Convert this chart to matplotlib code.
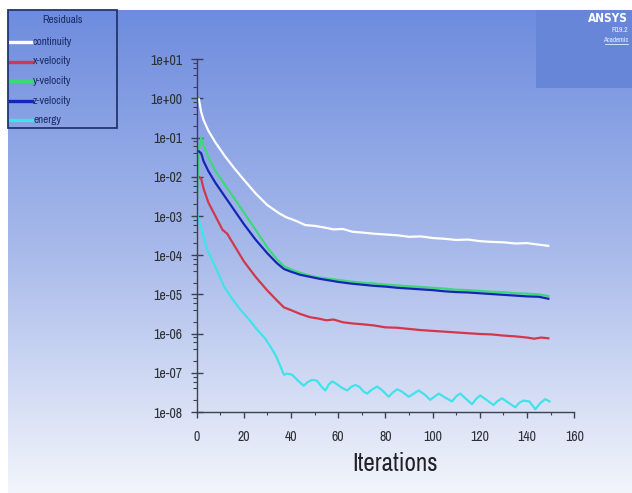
import numpy as np
import matplotlib
matplotlib.use("Agg")
import matplotlib.pyplot as plt
from matplotlib.ticker import LogLocator, FuncFormatter, MultipleLocator
from matplotlib.patches import Rectangle
from matplotlib.lines import Line2D

plt.rcParams['font.family'] = ['Archivo Narrow', 'Roboto Condensed', 'PT Sans Narrow',
                               'DejaVu Sans']
plt.rcParams['font.stretch'] = 'condensed'

# ---------------- data (iteration, log10 residual) ----------------
cont_it = [1, 2, 3, 5, 8, 12, 16, 20, 25, 30, 35, 38, 42, 46, 50, 54, 58, 62, 66, 70,
           75, 80, 85, 90, 95, 100, 105, 110, 115, 120, 125, 130, 135, 140, 145, 149]
cont_lg = [-0.02, -0.35, -0.55, -0.82, -1.12, -1.47, -1.78, -2.07, -2.42, -2.72, -2.93,
           -3.03, -3.12, -3.23, -3.25, -3.29, -3.34, -3.33, -3.40, -3.42, -3.45, -3.47,
           -3.49, -3.53, -3.52, -3.56, -3.58, -3.61, -3.60, -3.64, -3.66, -3.67, -3.70,
           -3.69, -3.73, -3.76]

yvel_it = [0, 1, 2, 3, 5, 8, 12, 16, 20, 25, 30, 34, 37, 40, 44, 48, 52, 56, 60, 65, 70,
           75, 80, 85, 90, 95, 100, 105, 110, 115, 120, 125, 130, 135, 140, 145, 149]
yvel_lg = [-2.85, -1.3, -1.0, -1.2, -1.5, -1.85, -2.2, -2.55, -2.9, -3.35, -3.8, -4.1,
           -4.28, -4.36, -4.45, -4.52, -4.57, -4.60, -4.63, -4.67, -4.70, -4.72, -4.75,
           -4.77, -4.79, -4.81, -4.83, -4.85, -4.88, -4.89, -4.91, -4.93, -4.94, -4.97,
           -4.98, -5.00, -5.04]

zvel_it = [1, 2, 3, 5, 8, 12, 16, 20, 25, 30, 34, 37, 40, 44, 48, 52, 56, 60, 65, 70,
           75, 80, 85, 90, 95, 100, 105, 110, 115, 120, 125, 130, 135, 140, 145, 149]
zvel_lg = [-1.35, -1.4, -1.6, -1.85, -2.15, -2.5, -2.85, -3.2, -3.6, -3.95, -4.2, -4.35,
           -4.42, -4.50, -4.55, -4.60, -4.64, -4.68, -4.72, -4.75, -4.78, -4.80, -4.83,
           -4.85, -4.87, -4.89, -4.92, -4.94, -4.95, -4.97, -4.99, -5.01, -5.03, -5.05,
           -5.06, -5.11]

xvel_it = [1, 2, 3, 5, 8, 11, 13, 16, 20, 25, 30, 34, 37, 40, 44, 48, 52, 55, 58, 62, 66,
           70, 75, 80, 85, 90, 95, 100, 105, 110, 115, 120, 125, 130, 135, 140, 143, 146, 149]
xvel_lg = [-2.0, -2.05, -2.3, -2.65, -3.0, -3.35, -3.45, -3.75, -4.15, -4.55, -4.9, -5.15,
           -5.33, -5.40, -5.50, -5.58, -5.62, -5.66, -5.64, -5.71, -5.74, -5.76, -5.79,
           -5.84, -5.85, -5.88, -5.91, -5.93, -5.95, -5.97, -5.99, -6.01, -6.02, -6.05,
           -6.07, -6.10, -6.13, -6.10, -6.12]

ener_it = [0, 2, 4.5, 8, 11.6, 15, 18.6, 22, 25.7, 29, 31.3, 33.5, 35.6, 37, 38.5, 40.5,
           43, 45.4, 47, 49, 51, 53, 54.6, 56, 57.4, 59, 61.5, 63.8, 65.5, 67.3, 69, 70.8,
           72.3, 74, 76.5, 78.5, 81.4, 83.2, 85, 87, 89.9, 92, 94.1, 96.5, 99, 101,
           102.6, 105, 108.2, 110, 111.7, 114, 116.7, 118.5, 120.2, 123, 125.8, 127.5,
           129.4, 132, 135, 136.8, 138.5, 141, 143.5, 145.5, 147.7, 149.5]
ener_lg = [-2.91, -3.3, -3.85, -4.3, -4.79, -5.1, -5.39, -5.62, -5.90, -6.12, -6.33,
           -6.55, -6.84, -7.05, -7.02, -7.05, -7.2, -7.33, -7.24, -7.18, -7.2, -7.36,
           -7.45, -7.3, -7.22, -7.27, -7.38, -7.45, -7.36, -7.31, -7.36, -7.48, -7.53,
           -7.44, -7.35, -7.44, -7.61, -7.5, -7.42, -7.48, -7.61, -7.53, -7.45, -7.55,
           -7.69, -7.6, -7.53, -7.62, -7.73, -7.6, -7.53, -7.66, -7.80, -7.66, -7.58,
           -7.7, -7.82, -7.72, -7.65, -7.76, -7.88, -7.76, -7.71, -7.73, -7.93, -7.78,
           -7.67, -7.73]

series_names = ["continuity", "x-velocity", "y-velocity", "z-velocity", "energy"]
series_colors = ["#ffffff", "#d2384a", "#3ed87a", "#1426b4", "#42e2ea"]
series_data = [(cont_it, cont_lg), (xvel_it, xvel_lg), (yvel_it, yvel_lg),
               (zvel_it, zvel_lg), (ener_it, ener_lg)]

x_ticks = [0, 20, 40, 60, 80, 100, 120, 140, 160]

# ---------------- figure ----------------
W, H = 632, 493
fig = plt.figure(figsize=(W / 100, H / 100), dpi=100)
fig.patch.set_facecolor("white")

def fx(px):
    return px / W

def fy(py):
    return 1 - py / H

# background gradient
bg = fig.add_axes([fx(8), 0, 1 - fx(8), 1 - 10 / H], zorder=0)
stops_y = np.array([0.0, 0.5, 1.0])
stops_c = np.array([[0.43, 0.55, 0.87], [0.66, 0.73, 0.92], [0.95, 0.96, 0.985]])
t = np.linspace(0, 1, 256)
grad = np.stack([np.interp(t, stops_y, stops_c[:, k]) for k in range(3)], axis=1)
bg.imshow(grad[:, None, :], aspect="auto", extent=[0, 1, 0, 1], origin="upper")
bg.set_axis_off()

# ANSYS box
fig.patches.append(Rectangle((fx(536), fy(88)), 1 - fx(536), fy(10) - fy(88),
                             transform=fig.transFigure, facecolor="#6886d8",
                             edgecolor="none", zorder=1))
fig.text(fx(628), fy(19), "ANSYS", color="white", fontsize=8.5, fontweight="bold",
         family="DejaVu Sans", fontstretch="condensed",
         ha="right", va="center", zorder=3)
fig.text(fx(628), fy(30), "R19.2", color="#e8eeff", fontsize=5.5,
         ha="right", va="center", zorder=3)
fig.text(fx(628), fy(39.5), "Academic", color="#e8eeff", fontsize=5,
         ha="right", va="center", zorder=3)
fig.lines.append(Line2D([fx(605), fx(628)], [fy(43.5), fy(43.5)], transform=fig.transFigure,
                        color="#e8eeff", lw=0.6, zorder=3))

# main axes
ax = fig.add_axes([fx(196.5), fy(412), fx(574.3) - fx(196.5), fy(59.3) - fy(412)], zorder=2)
ax.patch.set_alpha(0)
for (it, lg), c in zip(series_data, series_colors):
    ax.plot(it, np.power(10.0, lg), color=c, lw=1.6, solid_joinstyle="round")

ax.set_yscale("log")
ax.set_ylim(1e-8, 1e1)
ax.set_xlim(0, 160)
ax.set_xticks(x_ticks)
ax.xaxis.set_minor_locator(MultipleLocator(10))
ax.yaxis.set_major_locator(LogLocator(base=10, numticks=20))
ax.yaxis.set_minor_locator(LogLocator(base=10, subs=[2, 4, 6, 8], numticks=20))
ax.yaxis.set_major_formatter(FuncFormatter(lambda v, p: "1e%+03d" % int(round(np.log10(v)))))
ax.yaxis.set_minor_formatter(FuncFormatter(lambda v, p: ""))

for s in ["top", "right"]:
    ax.spines[s].set_visible(False)
for s in ["left", "bottom"]:
    ax.spines[s].set_color("#3c4050")
    ax.spines[s].set_linewidth(1.0)

ax.tick_params(axis="y", which="major", direction="inout", length=8, width=1,
               color="#3c4050", labelcolor="#2e3038", labelsize=10, pad=6)
ax.tick_params(axis="y", which="minor", direction="out", length=3, width=0.8, color="#3c4050")
ax.tick_params(axis="x", which="major", direction="out", length=4, width=1,
               color="#3c4050", labelcolor="#2e3038", labelsize=10, pad=9)
ax.tick_params(axis="x", which="minor", direction="out", length=2.5, width=0.8, color="#3c4050")
ax.set_xlabel("Iterations", fontsize=18, color="#202228")
ax.xaxis.set_label_coords(0.525, -0.112)

# legend box
fig.patches.append(Rectangle((fx(8), fy(128)), fx(117) - fx(8), fy(10) - fy(128),
                             transform=fig.transFigure, facecolor="none",
                             edgecolor="#24356e", lw=1.3, zorder=3))
fig.text(fx(62), fy(20), "Residuals", color="#1c2c66", fontsize=8,
         ha="center", va="center", zorder=3)
leg_y = [42, 61.5, 81, 100.5, 120]
for name, c, yy in zip(series_names, series_colors, leg_y):
    fig.lines.append(Line2D([fx(10), fx(32)], [fy(yy), fy(yy)], transform=fig.transFigure,
                            color=c, lw=2.4, zorder=3))
    fig.text(fx(33), fy(yy), name, color="#1c2c66", fontsize=8,
             ha="left", va="center", zorder=3)

fig.savefig("out.png", dpi=100)
